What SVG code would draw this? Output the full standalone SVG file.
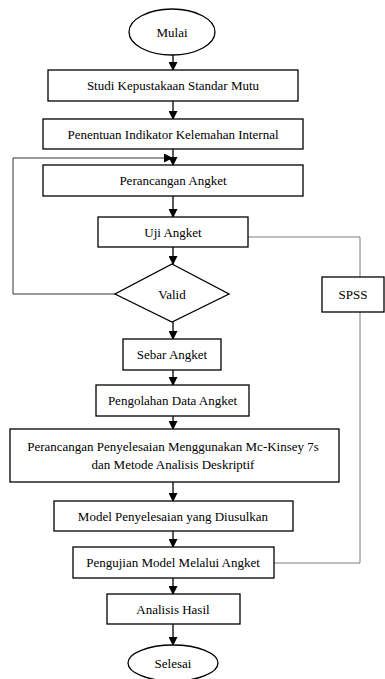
<svg xmlns="http://www.w3.org/2000/svg" width="385" height="679" viewBox="0 0 385 679">
<defs>
<marker id="ah" markerWidth="9" markerHeight="9" refX="8" refY="4.5" orient="auto" markerUnits="userSpaceOnUse">
<path d="M0,0 L9,4.5 L0,9 Z" fill="#000"/>
</marker>
</defs>
<style>
.box{fill:#fff;stroke:#000;stroke-width:1.3}
text{font-family:'Liberation Serif','DejaVu Serif',serif;font-size:13px;fill:#000;text-anchor:middle}
.c{fill:none;stroke:#000;stroke-width:1.3}
.g{fill:none;stroke:#7a7a7a;stroke-width:1}
.l{fill:none;stroke:#333;stroke-width:1}
</style>
<rect width="385" height="679" fill="#fff"/>
<g id="connectors">
<line class="c" x1="173" y1="55" x2="173" y2="70" marker-end="url(#ah)"/>
<line class="c" x1="173" y1="101" x2="173" y2="119" marker-end="url(#ah)"/>
<line class="c" x1="173" y1="149" x2="173" y2="165" marker-end="url(#ah)"/>
<polyline class="l" points="115,294 13,294 13,158 172,158" marker-end="url(#ah)"/>
<line class="c" x1="173" y1="196" x2="173" y2="217" marker-end="url(#ah)"/>
<line class="c" x1="173" y1="247" x2="173" y2="264" marker-end="url(#ah)"/>
<line class="c" x1="173" y1="322" x2="173" y2="339" marker-end="url(#ah)"/>
<line class="c" x1="173" y1="370" x2="173" y2="385" marker-end="url(#ah)"/>
<line class="c" x1="173" y1="416" x2="173" y2="429" marker-end="url(#ah)"/>
<line class="c" x1="173" y1="482" x2="173" y2="501" marker-end="url(#ah)"/>
<line class="c" x1="173" y1="531" x2="173" y2="547" marker-end="url(#ah)"/>
<line class="c" x1="173" y1="578" x2="173" y2="594" marker-end="url(#ah)"/>
<line class="c" x1="173" y1="624" x2="173" y2="645" marker-end="url(#ah)"/>
<polyline class="g" points="248,237 360,237 360,277"/>
<polyline class="g" points="360,312 360,563 274,563"/>
</g>
<g id="mulai"><ellipse class="box" cx="172" cy="32" rx="43" ry="23"/><text x="172" y="36.5">Mulai</text></g>
<g id="studi"><rect class="box" x="48" y="70" width="250" height="31"/><text x="173" y="90">Studi Kepustakaan Standar Mutu</text></g>
<g id="penentuan"><rect class="box" x="43" y="119" width="260" height="30"/><text x="173" y="138.5">Penentuan Indikator Kelemahan Internal</text></g>
<g id="perancangan-angket"><rect class="box" x="43" y="165" width="260" height="31"/><text x="173" y="185">Perancangan Angket</text></g>
<g id="uji"><rect class="box" x="98" y="217" width="150" height="30"/><text x="173" y="236.5">Uji Angket</text></g>
<g id="valid"><polygon class="box" points="172,264 229,294 172,322 115,294"/><text x="172" y="298.5">Valid</text></g>
<g id="spss"><rect class="box" x="322" y="277" width="62" height="35"/><text x="353" y="299">SPSS</text></g>
<g id="sebar"><rect class="box" x="123" y="339" width="98" height="31"/><text x="172" y="359">Sebar Angket</text></g>
<g id="pengolahan"><rect class="box" x="96" y="385" width="153" height="31"/><text x="172.5" y="405">Pengolahan Data Angket</text></g>
<g id="perancangan-penyelesaian"><rect class="box" x="10" y="429" width="329" height="53"/><text x="173" y="451">Perancangan Penyelesaian Menggunakan Mc-Kinsey 7s</text><text x="173" y="469">dan Metode Analisis Deskriptif</text></g>
<g id="model"><rect class="box" x="54" y="501" width="239" height="30"/><text x="173" y="520.5">Model Penyelesaian yang Diusulkan</text></g>
<g id="pengujian"><rect class="box" x="73" y="547" width="201" height="31"/><text x="173" y="567">Pengujian Model Melalui Angket</text></g>
<g id="analisis"><rect class="box" x="107" y="594" width="133" height="30"/><text x="173" y="613.5">Analisis Hasil</text></g>
<g id="selesai"><ellipse class="box" cx="173" cy="663" rx="45" ry="18"/><text x="173" y="667.5">Selesai</text></g>
</svg>
